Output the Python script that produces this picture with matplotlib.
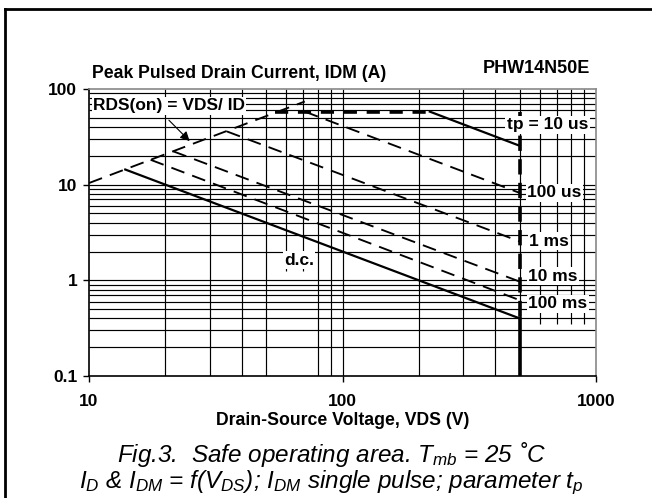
import matplotlib
matplotlib.use("Agg")
import matplotlib.pyplot as plt
from matplotlib.lines import Line2D

plt.rcParams['font.family'] = ['Liberation Sans', 'DejaVu Sans']
plt.rcParams['mathtext.fontset'] = 'custom'
plt.rcParams['mathtext.rm'] = 'Liberation Sans'
plt.rcParams['mathtext.it'] = 'Liberation Sans:italic'
plt.rcParams['lines.scale_dashes'] = False

# SOA boundaries (V, A)
v_rds = [10, 71]
i_rds = [10.4, 74]
v_lim = [54, 221]
i_lim = [58, 58]
v_10us = [221, 500]
i_10us = [58, 25.5]
v_100us = [71, 500]
i_100us = [58, 8.2]
v_1ms = [35, 500]
i_1ms = [36, 2.55]
v_10ms = [21.5, 500]
i_10ms = [22.3, 0.97]
v_100ms = [17.5, 500]
i_100ms = [18.2, 0.62]
v_dc = [13.9, 500]
i_dc = [14.4, 0.4]
v_dss = 500
i_vert_dash = [58, 0.4]
i_vert_solid = [0.4, 0.1]

x_ticks = [10, 100, 1000]
x_ticklabels = ['10', '100', '1000']
y_ticks = [0.1, 1, 10, 100]
y_ticklabels = ['0.1', '1', '10', '100']

fig = plt.figure(figsize=(6.52, 4.98), dpi=100)
ax = fig.add_axes([89/652, 1-376/498, 507/652, 287/498])
ax.set_xscale('log')
ax.set_yscale('log')
ax.set_xlim(10, 1000)
ax.set_ylim(0.1, 100)

# grid (a few minor verticals stop short in the original artwork)
gkw = dict(color='black', lw=0.85, zorder=1)
for dec in [10, 100]:
    for m in range(1, 10):
        v = dec * m
        if v == 10:
            continue
        lo = 0.1
        if v in (60, 70):
            lo = 1.25
        if v in (600, 700, 800, 900):
            lo = 0.35
        ax.vlines(v, lo, 100, **gkw)
for dec in [0.1, 1, 10]:
    for m in range(1, 10):
        y = dec * m
        if y == 0.1:
            continue
        ax.hlines(y, 10, 1000, **gkw)

lw_thin = 1.35
ax.plot(v_rds, i_rds, color='black', lw=lw_thin, dashes=(10, 6), zorder=3)
ax.plot(v_lim, i_lim, color='black', lw=2.6, dashes=(9.5, 7), zorder=3)
ax.plot(v_10us, i_10us, color='black', lw=1.6, zorder=3)
for vv, ii in [(v_100us, i_100us), (v_1ms, i_1ms), (v_10ms, i_10ms), (v_100ms, i_100ms)]:
    ax.plot(vv, ii, color='black', lw=lw_thin, dashes=(10, 6), zorder=3)
ax.plot(v_dc, i_dc, color='black', lw=1.6, zorder=3)
ax.plot([v_dss, v_dss], i_vert_dash, color='black', lw=2.6, dashes=(11, 6), zorder=3)
ax.plot([v_dss, v_dss], i_vert_solid, color='black', lw=2.6, zorder=3)

box = dict(facecolor='white', edgecolor='none', pad=1.0)
tkw = dict(fontsize=12.5, fontweight='bold', transform=ax.transAxes,
           va='center', bbox=box, zorder=4)
ax.text(0.008, 0.941, 'RDS(on) = VDS/ ID', ha='left', **tkw)
ax.text(0.824, 0.875, 'tp = 10 us', ha='left', **tkw)
ax.text(0.864, 0.638, '100 us', ha='left', **tkw)
ax.text(0.868, 0.470, '1 ms', ha='left', **tkw)
ax.text(0.866, 0.348, '10 ms', ha='left', **tkw)
ax.text(0.866, 0.251, '100 ms', ha='left', **tkw)
ax.text(0.414, 0.404, 'd.c.', ha='center', **tkw)

ax.annotate('', xy=(25.4, 27.2), xytext=(20.3, 49.5),
            arrowprops=dict(arrowstyle='-|>', color='black', lw=0.8,
                            mutation_scale=14), zorder=4)

ax.set_xticks(x_ticks)
ax.set_xticklabels(x_ticklabels)
ax.set_yticks(y_ticks)
ax.set_yticklabels(y_ticklabels)
ax.minorticks_off()
ax.tick_params(axis='x', length=4, width=1, pad=9, labelsize=12.5)
ax.tick_params(axis='y', length=4, width=1, pad=4.5, labelsize=12.5)
for lab in ax.get_xticklabels() + ax.get_yticklabels():
    lab.set_fontweight('bold')

for s in ['left', 'bottom']:
    ax.spines[s].set_color('black')
    ax.spines[s].set_linewidth(1.2)
for s in ['top', 'right']:
    ax.spines[s].set_color('#888888')
    ax.spines[s].set_linewidth(1.2)

fig.text(92/652, 1-74/498, 'Peak Pulsed Drain Current, IDM (A)',
         fontsize=12.7, fontweight='bold', ha='left', va='center')
fig.text(536/652, 1-68.5/498, 'PHW14N50E', fontsize=13,
         fontweight='bold', ha='center', va='center')
fig.text(342.5/652, 1-420/498, 'Drain-Source Voltage, VDS (V)',
         fontsize=12.7, fontweight='bold', ha='center', va='center')

fig.text(331/652, 1-454/498, 'Fig.3.  Safe operating area. $T_{mb}$ = 25 \u02daC',
         fontsize=17.5, style='italic', ha='center', va='center')
fig.text(331/652, 1-483/498,
         '$I_D$ & $I_{DM}$ = f($V_{DS}$); $I_{DM}$ single pulse; parameter $t_p$',
         fontsize=17.5, style='italic', ha='center', va='center')

# outer frame of the datasheet figure
fig.add_artist(Line2D([5/652, 5/652], [0, 1-9/498], color='black', lw=2,
                      transform=fig.transFigure))
fig.add_artist(Line2D([5/652, 1], [1-9/498, 1-9/498], color='black', lw=2,
                      transform=fig.transFigure))

fig.savefig('out.png', dpi=100)
